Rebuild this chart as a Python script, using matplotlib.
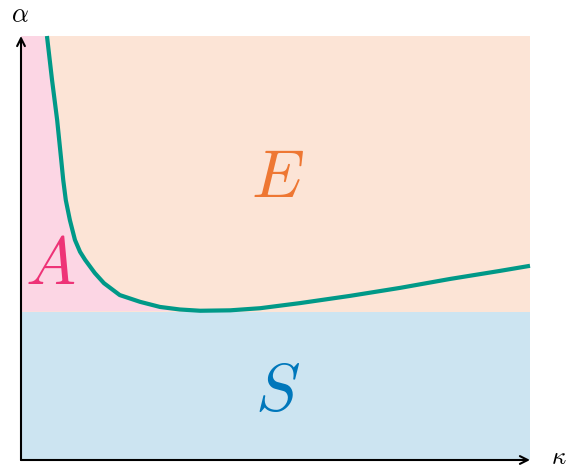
import numpy as np
import matplotlib.pyplot as plt

plt.rcParams['mathtext.fontset'] = 'cm'

# boundary curve between the A / E regions (kappa, alpha)
kappa = [0.51, 0.61, 0.71, 0.79, 0.83, 0.88, 0.96, 1.06, 1.16, 1.26, 1.45,
         1.63, 1.94, 2.34, 2.73, 3.12, 3.52, 4.11, 4.70, 5.48, 6.46, 7.45,
         8.43, 9.41, 10.0]
alpha = [10.0, 8.96, 8.02, 7.08, 6.60, 6.13, 5.66, 5.19, 4.91, 4.72, 4.41,
         4.17, 3.89, 3.73, 3.61, 3.55, 3.52, 3.53, 3.58, 3.70, 3.87, 4.06,
         4.27, 4.46, 4.58]
alpha_s = 3.5          # stable region below this level
x_max, y_max = 10.0, 10.0

teal = '#009988'
c_A, c_E, c_S = '#EE3377', '#EE7733', '#0077BB'
fill_A, fill_E, fill_S = '#fcd6e4', '#fce4d6', '#cce4f1'

fig = plt.figure(figsize=(5.69, 4.68), dpi=100)
ax = fig.add_axes([21/569, 8/468, 509/569, 424/468])
ax.set_xlim(0, x_max)
ax.set_ylim(0, y_max)

# regions
ax.fill([0, x_max, x_max, 0], [0, 0, alpha_s, alpha_s], color=fill_S, lw=0)
ax.fill([0, x_max, x_max, 0], [alpha_s, alpha_s, y_max, y_max], color=fill_E, lw=0)
imin = int(np.argmin(alpha))
px = [0] + kappa[:imin + 1][::-1] + [0]
py = [alpha_s] + alpha[:imin + 1][::-1] + [y_max]
ax.fill(px, py, color=fill_A, lw=0)

ax.plot(kappa, alpha, color=teal, lw=3, solid_joinstyle='round',
        solid_capstyle='butt', clip_on=False)

# region labels
ax.text(0.57, 4.6, r'$A$', color=c_A, fontsize=48, ha='center', va='center')
ax.text(5.03, 6.65, r'$E$', color=c_E, fontsize=48, ha='center', va='center')
ax.text(5.03, 1.6, r'$S$', color=c_S, fontsize=48, ha='center', va='center')

# axes as arrows
for s in ax.spines.values():
    s.set_visible(False)
ax.set_xticks([])
ax.set_yticks([])
arrow = dict(arrowstyle='->', lw=1.5, color='black', mutation_scale=14,
             shrinkA=0, shrinkB=0)
ax.annotate('', xy=(1.0, 0), xytext=(0, 0), xycoords='axes fraction',
            arrowprops=arrow, annotation_clip=False)
ax.annotate('', xy=(0, 1.0), xytext=(0, 0), xycoords='axes fraction',
            arrowprops=arrow, annotation_clip=False)
fig.text(559/569, 1 - 464/468, r'$\kappa$', fontsize=18, ha='center', va='baseline')
fig.text(20/569, 1 - 15/468, r'$\alpha$', fontsize=19, ha='center', va='center')

fig.savefig('out.png', dpi=100)
